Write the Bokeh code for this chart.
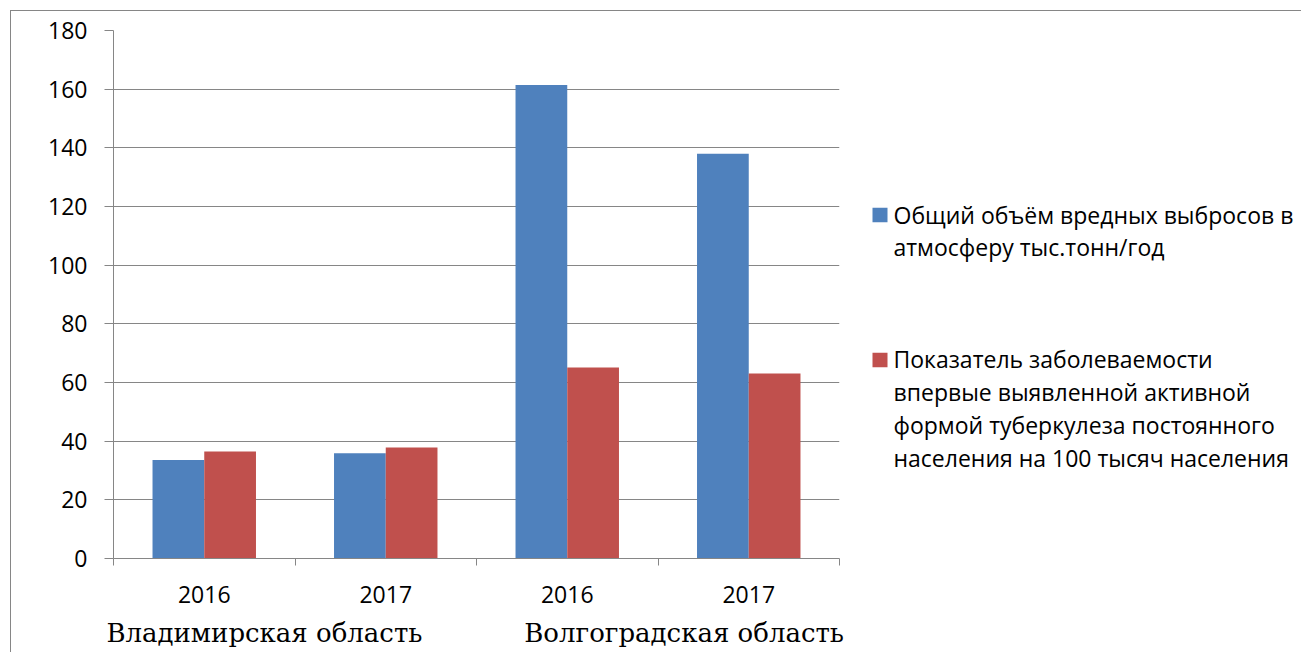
from bokeh.plotting import figure
from bokeh.models import Range1d, FixedTicker, LinearAxis, ColumnDataSource
from bokeh.layouts import row
from bokeh.core.properties import value
from bokeh.embed import file_html
from bokeh.resources import INLINE
import numpy as np

# ---- data ----
regions = ["Владимирская область", "Волгоградская область"]
years = ["2016", "2017", "2016", "2017"]
emissions = [33.6, 35.9, 161.4, 138.0]
tuberculosis = [36.5, 37.8, 65.1, 63.1]
series_names = [
    ["Общий объём вредных выбросов в", "атмосферу тыс.тонн/год"],
    ["Показатель заболеваемости", "впервые выявленной активной",
     "формой туберкулеза постоянного", "населения на 100 тысяч населения"],
]
y_ticks = list(range(0, 181, 20))
colors = ["#4F81BD", "#C0504D"]

GRAY = "#868686"
OX, OY = 12, 12            # page position of the figures' origin (after border/margin)
MAIN_W, LEG_W, H = 850, 440, 641
FRAME_L, FRAME_T, FRAME_R, FRAME_B = 114, 31, 840, 559   # page coords of plot area
BT, BB = FRAME_T - OY, OY + H - FRAME_B

n = len(years)
p = figure(width=MAIN_W, height=H, output_backend="svg", toolbar_location=None,
           x_range=Range1d(0, n), y_range=Range1d(0, 180),
           min_border_left=FRAME_L - OX, min_border_top=BT,
           min_border_right=OX + MAIN_W - FRAME_R, min_border_bottom=BB)
p.outline_line_color = None
p.border_fill_color = "white"

bw = 0.285
centers = np.arange(n) + 0.5
p.vbar(x=centers - bw / 2, top=emissions, width=bw, color=colors[0], line_color=None)
p.vbar(x=centers + bw / 2, top=tuberculosis, width=bw, color=colors[1], line_color=None)

# x axis: year labels at category centres, tick marks at boundaries
p.xaxis.ticker = FixedTicker(ticks=list(centers), minor_ticks=list(range(n + 1)))
p.xaxis.major_label_overrides = {float(c): y for c, y in zip(centers, years)}
p.xaxis.major_tick_out = 0
p.xaxis.major_tick_in = 0
p.xaxis.minor_tick_out = 7
p.xaxis.minor_tick_in = 0
p.xaxis.minor_tick_line_color = GRAY
p.xaxis.axis_line_color = GRAY
p.xaxis.major_label_text_font = "Open Sans"
p.xaxis.major_label_text_font_size = "23px"
p.xaxis.major_label_text_color = "#000000"
p.xaxis.major_label_standoff = 20

# second row of x labels: region names
region_pos = [0.8315, 3.144]
reg_axis = LinearAxis(ticker=FixedTicker(ticks=region_pos, minor_ticks=[]),
                      major_label_overrides={float(x): r for x, r in zip(region_pos, regions)},
                      axis_line_color=None, major_tick_line_color=None,
                      minor_tick_line_color=None,
                      major_label_text_font="DejaVu Serif",
                      major_label_text_font_size="26px",
                      major_label_text_color="#000000",
                      major_label_standoff=6)
p.add_layout(reg_axis, "below")

p.yaxis.ticker = FixedTicker(ticks=y_ticks)
p.yaxis.minor_tick_line_color = None
p.yaxis.major_tick_out = 9
p.yaxis.major_tick_in = 0
p.yaxis.major_tick_line_color = GRAY
p.yaxis.axis_line_color = GRAY
p.yaxis.major_label_text_font = "Open Sans"
p.yaxis.major_label_text_font_size = "23px"
p.yaxis.major_label_text_color = "#000000"
p.yaxis.major_label_standoff = 17

p.xgrid.grid_line_color = None
p.ygrid.ticker = FixedTicker(ticks=y_ticks)
p.ygrid.grid_line_color = GRAY
p.ygrid.grid_line_width = 1

# ---- legend panel (data units = page pixels, y downward) ----
LX0 = OX + MAIN_W
leg = figure(width=LEG_W, height=H, output_backend="svg", toolbar_location=None,
             x_range=Range1d(LX0, LX0 + LEG_W), y_range=Range1d(FRAME_B, FRAME_T),
             min_border_left=0, min_border_right=0,
             min_border_top=BT, min_border_bottom=BB)
leg.axis.visible = False
leg.grid.visible = False
leg.outline_line_color = None
square_top = [208.3, 353.3]
first_baseline = [215.0, 359.8]
line_gap = 32.8
sq_l, sq_r, sq_h, text_x = 873, 888, 14.5, 894
for k in range(2):
    t = square_top[k]
    leg.quad(left=[sq_l], right=[sq_r], top=[t], bottom=[t + sq_h],
             fill_color=colors[k], line_color=None)
    lines = series_names[k]
    src = ColumnDataSource(dict(
        x=[text_x] * len(lines),
        y=[first_baseline[k] + j * line_gap for j in range(len(lines))],
        t=lines))
    leg.text(x="x", y="y", text="t", source=src, text_font=value("Open Sans"),
             text_font_size="23px", text_align="left", text_baseline="alphabetic",
             text_color="#000000")

layout = row(p, leg, margin=(10, 0, 0, 10),
             styles={"border-left": "1.5px solid #868686",
                     "border-top": "1.5px solid #868686"})

open("out.html", "w").write(file_html(layout, INLINE))
